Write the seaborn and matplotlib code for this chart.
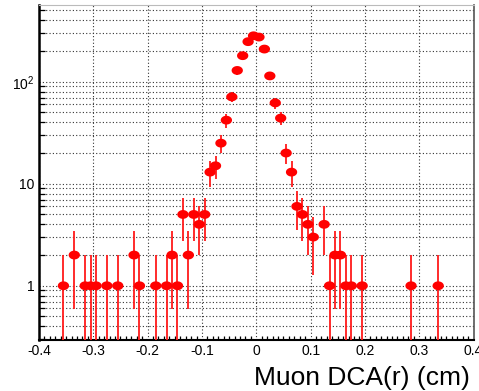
import numpy as np
import matplotlib
matplotlib.use("Agg")
import matplotlib.pyplot as plt
from matplotlib.path import Path
from matplotlib.ticker import FixedLocator, FixedFormatter, LogLocator, NullFormatter, MultipleLocator
import seaborn as sns
import pandas as pd

# Muon DCA(r) histogram: bin centres (cm) and entries per bin
dca_r = [-0.355, -0.335, -0.315, -0.305, -0.295, -0.275, -0.255, -0.225, -0.215,
         -0.185, -0.165, -0.155, -0.145, -0.135, -0.125, -0.115, -0.105, -0.095,
         -0.085, -0.075, -0.065, -0.055, -0.045, -0.035, -0.025, -0.015, -0.005,
         0.005, 0.015, 0.025, 0.035, 0.045, 0.055, 0.065, 0.075, 0.085, 0.095,
         0.105, 0.125, 0.135, 0.145, 0.155, 0.165, 0.175, 0.195, 0.285, 0.335]
counts = [1, 2, 1, 1, 1, 1, 1, 2, 1,
          1, 1, 2, 1, 5, 2, 5, 4, 5,
          13, 15, 25, 42, 71, 129, 180, 247, 282,
          274, 209, 114, 62, 44, 20, 13, 6, 5, 4,
          3, 4, 1, 2, 2, 1, 1, 1, 1, 1]

x_ticks = [-0.4, -0.3, -0.2, -0.1, 0.0, 0.1, 0.2, 0.3, 0.4]
x_tick_labels = ["-0.4", "-0.3", "-0.2", "-0.1", "0", "0.1", "0.2", "0.3", "0.4"]
y_ticks = [1, 10, 100]
y_tick_labels = ["1", "10", "$\\mathregular{10^{2}}$"]

df = pd.DataFrame({"dca": dca_r, "n": counts})
df["err"] = np.sqrt(df["n"])

sns.set_theme(style="white")
plt.rcParams["font.family"] = ["Liberation Sans", "DejaVu Sans"]
plt.rcParams["mathtext.fontset"] = "custom"
plt.rcParams["mathtext.rm"] = "Liberation Sans"
plt.rcParams["mathtext.default"] = "regular"

fig = plt.figure(figsize=(4.79, 3.91), dpi=100)
ax = fig.add_axes([39 / 479, 1 - 340 / 391, (473.5 - 39) / 479, (340 - 5) / 391])

# slightly flattened circle marker
t = np.linspace(0, 2 * np.pi, 60)
ellipse = Path(np.column_stack([np.cos(t), 0.78 * np.sin(t)]), closed=True)

ax.errorbar(df["dca"], df["n"], yerr=df["err"], fmt="none", ecolor="#ff1a1a",
            elinewidth=1.3, capsize=0, zorder=3)
sns.scatterplot(data=df, x="dca", y="n", ax=ax, marker=ellipse, s=66,
                color="#ff0000", edgecolor="none", linewidth=0, zorder=4)

ax.set_yscale("log")
ax.set_xlim(-0.4, 0.4)
ax.set_ylim(0.294, 565)

ax.xaxis.set_major_locator(FixedLocator(x_ticks))
ax.xaxis.set_major_formatter(FixedFormatter(x_tick_labels))
ax.xaxis.set_minor_locator(MultipleLocator(0.01))
ax.yaxis.set_major_locator(FixedLocator(y_ticks))
ax.yaxis.set_major_formatter(FixedFormatter(y_tick_labels))
ax.yaxis.set_minor_locator(LogLocator(base=10, subs=np.arange(2, 10)))
ax.yaxis.set_minor_formatter(NullFormatter())

ax.tick_params(axis="both", which="major", direction="in", color="black",
               labelsize=10, labelcolor="black", width=1.0)
ax.tick_params(axis="x", which="major", length=6, pad=3.0, top=False)
ax.tick_params(axis="x", which="minor", direction="in", length=3, width=0.9, color="black", bottom=True)
ax.tick_params(axis="y", which="major", length=7, pad=3.5, right=False)
ax.tick_params(axis="y", which="minor", direction="in", length=4.5, width=0.9, color="black", left=True)

ax.grid(True, which="major", axis="both", color="#333333", linestyle=(0, (1, 2)), linewidth=0.8)
ax.grid(True, which="minor", axis="y", color="#333333", linestyle=(0, (1, 2)), linewidth=0.8)
ax.set_axisbelow(True)

ax.spines["left"].set_linewidth(1.8)
ax.spines["left"].set_color("black")
ax.spines["bottom"].set_linewidth(1.5)
ax.spines["bottom"].set_color("black")
ax.spines["top"].set_linewidth(0.8)
ax.spines["top"].set_color("#bbbbbb")
ax.spines["right"].set_linewidth(1.2)
ax.spines["right"].set_color("#555555")

ax.set_xlabel("")
ax.set_ylabel("")
fig.text(470 / 479, 6 / 391, "Muon DCA(r) (cm)", ha="right", va="baseline",
         fontsize=19, color="black")

fig.savefig("out.png", dpi=100)
